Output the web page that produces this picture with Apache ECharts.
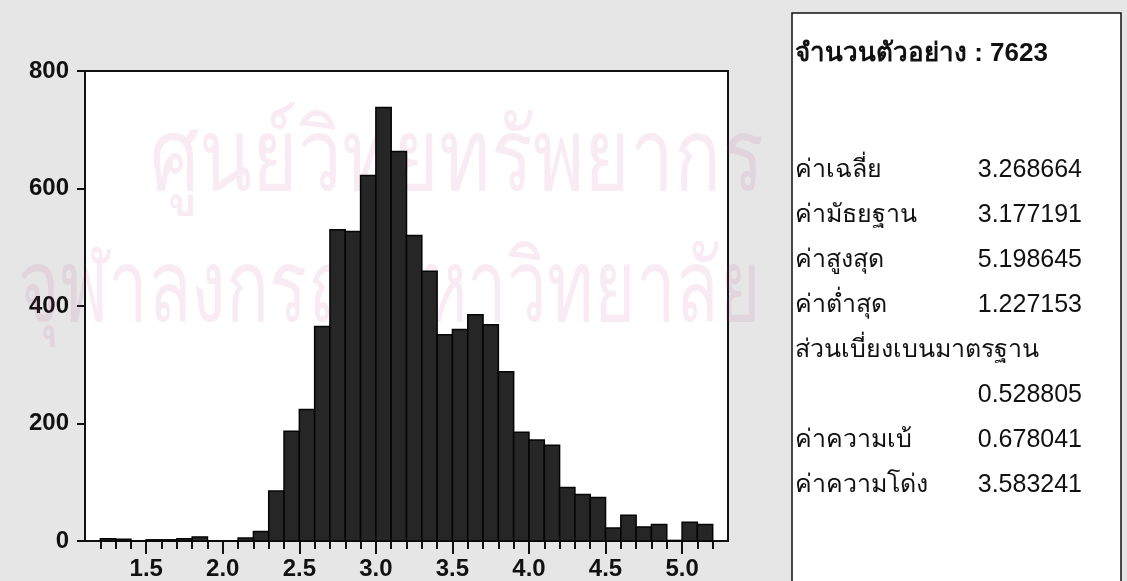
<!DOCTYPE html>
<html>
<head>
<meta charset="utf-8">
<script src="https://cdn.jsdelivr.net/npm/echarts@6/dist/echarts.min.js"></script>
<style>
html,body{margin:0;padding:0;background:#e6e6e6;}
#chart{width:1127px;height:581px;}
</style>
</head>
<body>
<div id="chart"></div>
<script>
// ---- data ----
const binStarts = [1.2,1.3,1.4,1.5,1.6,1.7,1.8,1.9,2.0,2.1,2.2,2.3,2.4,2.5,2.6,2.7,2.8,2.9,3.0,3.1,3.2,3.3,3.4,3.5,3.6,3.7,3.8,3.9,4.0,4.1,4.2,4.3,4.4,4.5,4.6,4.7,4.8,4.9,5.0,5.1];
const binWidth = 0.1;
const counts = [4,3,0,2,2,4,7,0,0,5,16,85,187,224,365,530,527,622,738,663,520,459,351,360,385,368,288,185,172,163,91,79,74,22,44,24,28,1,32,28];
const minorTickValues = [1.2,1.3,1.4,1.5,1.6,1.7,1.8,1.9,2.0,2.1,2.2,2.3,2.4,2.5,2.6,2.7,2.8,2.9,3.0,3.1,3.2,3.3,3.4,3.5,3.6,3.7,3.8,3.9,4.0,4.1,4.2,4.3,4.4,4.5,4.6,4.7,4.8,4.9,5.0,5.1,5.2];
const majorTickValues = [1.5,2.0,2.5,3.0,3.5,4.0,4.5,5.0];
const xTickLabels = ['1.5','2.0','2.5','3.0','3.5','4.0','4.5','5.0'];
const yTickValues = [0,200,400,600,800];
const statTitle = 'จำนวนตัวอย่าง : 7623';
const statNames = ['ค่าเฉลี่ย','ค่ามัธยฐาน','ค่าสูงสุด','ค่าต่ำสุด','ส่วนเบี่ยงเบนมาตรฐาน','ค่าความเบ้','ค่าความโด่ง'];
const statValues = ['3.268664','3.177191','5.198645','1.227153','0.528805','0.678041','3.583241'];
const watermarkLines = ['ศูนย์วิทยทรัพยากร','จุฬาลงกรณ์มหาวิทยาลัย'];

// ---- chart ----
const chart = echarts.init(document.getElementById('chart'), null, {renderer:'canvas'});
const FONT = '"Liberation Sans", Arial, "Noto Sans", sans-serif';

const histData = binStarts.map((s,i)=>[s, s+binWidth, counts[i]]);

// stats panel rows: SD value goes on its own line
const statEls = [];
const rowY0 = 170, rowStep = 45;
let row = 0;
statNames.forEach((name,i)=>{
  const y = rowY0 + row*rowStep;
  statEls.push({type:'text', x:795, y:y, z:10,
    style:{text:name, fontFamily:FONT, fontSize:25, fill:'#111', textAlign:'left', textVerticalAlign:'middle'}});
  if (i === 4) row++;
  const vy = rowY0 + row*rowStep;
  statEls.push({type:'text', x:1082, y:vy, z:10,
    style:{text:statValues[i], fontFamily:FONT, fontSize:25, fill:'#111', textAlign:'right', textVerticalAlign:'middle'}});
  row++;
});

const option = {
  backgroundColor:'#e6e6e6',
  animation:false,
  grid:{left:85, right:399, top:71, bottom:38, show:true, backgroundColor:'#ffffff', borderColor:'#111', borderWidth:2, z:0},
  xAxis:[
    {type:'value', min:1.1, max:5.3, gridIndex:0, position:'bottom',
     axisLine:{show:true, onZero:false, lineStyle:{color:'#111', width:2}},
     axisTick:{show:true, inside:false, length:8, customValues:minorTickValues, lineStyle:{color:'#111', width:2}},
     axisLabel:{show:false}, splitLine:{show:false}},
    {type:'value', min:1.1, max:5.3, gridIndex:0, position:'bottom',
     axisLine:{show:false},
     axisTick:{show:true, inside:false, length:13, customValues:majorTickValues, lineStyle:{color:'#111', width:2}},
     axisLabel:{show:true, customValues:majorTickValues, margin:16, fontFamily:FONT, fontSize:24, fontWeight:'bold', color:'#111',
       formatter:(v)=>{const k=majorTickValues.findIndex(t=>Math.abs(t-v)<1e-6); return k>=0?xTickLabels[k]:'';}},
     splitLine:{show:false}}
  ],
  yAxis:{type:'value', min:0, max:800, interval:200,
    axisLine:{show:true, lineStyle:{color:'#111', width:2}},
    axisTick:{show:true, inside:false, length:8, lineStyle:{color:'#111', width:2}},
    axisLabel:{show:true, margin:16, fontFamily:FONT, fontSize:24, fontWeight:'bold', color:'#111',
      formatter:(v)=> yTickValues.indexOf(v)>=0 ? String(v) : ''},
    splitLine:{show:false}},
  series:[{
    type:'custom', xAxisIndex:0, yAxisIndex:0, z:3,
    data:histData,
    encode:{x:[0,1], y:2},
    renderItem:(params, api)=>{
      const p0 = api.coord([api.value(0), api.value(2)]);
      const p1 = api.coord([api.value(1), 0]);
      return {type:'rect', shape:{x:p0[0], y:p0[1], width:p1[0]-p0[0], height:p1[1]-p0[1]},
        style:{fill:'#262626', stroke:'#050505', lineWidth:1.5}};
    }
  }],
  graphic:[
    {type:'text', x:150, y:212, z:1, silent:true, scaleX:0.78,
     style:{text:watermarkLines[0], fontFamily:FONT, fontSize:100, fill:'rgba(190,60,140,0.10)', textAlign:'left', textVerticalAlign:'bottom'}},
    {type:'text', x:18, y:343, z:1, silent:true, scaleX:0.71,
     style:{text:watermarkLines[1], fontFamily:FONT, fontSize:100, fill:'rgba(190,60,140,0.10)', textAlign:'left', textVerticalAlign:'bottom'}},
    {type:'rect', shape:{x:792, y:13, width:329, height:600}, z:5,
     style:{fill:'#ffffff', stroke:'#111', lineWidth:1.5}},
    {type:'text', x:795, y:54, z:10,
     style:{text:statTitle, fontFamily:FONT, fontSize:26, fontWeight:'bold', fill:'#111', textAlign:'left', textVerticalAlign:'middle'}}
  ].concat(statEls)
};
chart.setOption(option);
</script>
</body>
</html>
